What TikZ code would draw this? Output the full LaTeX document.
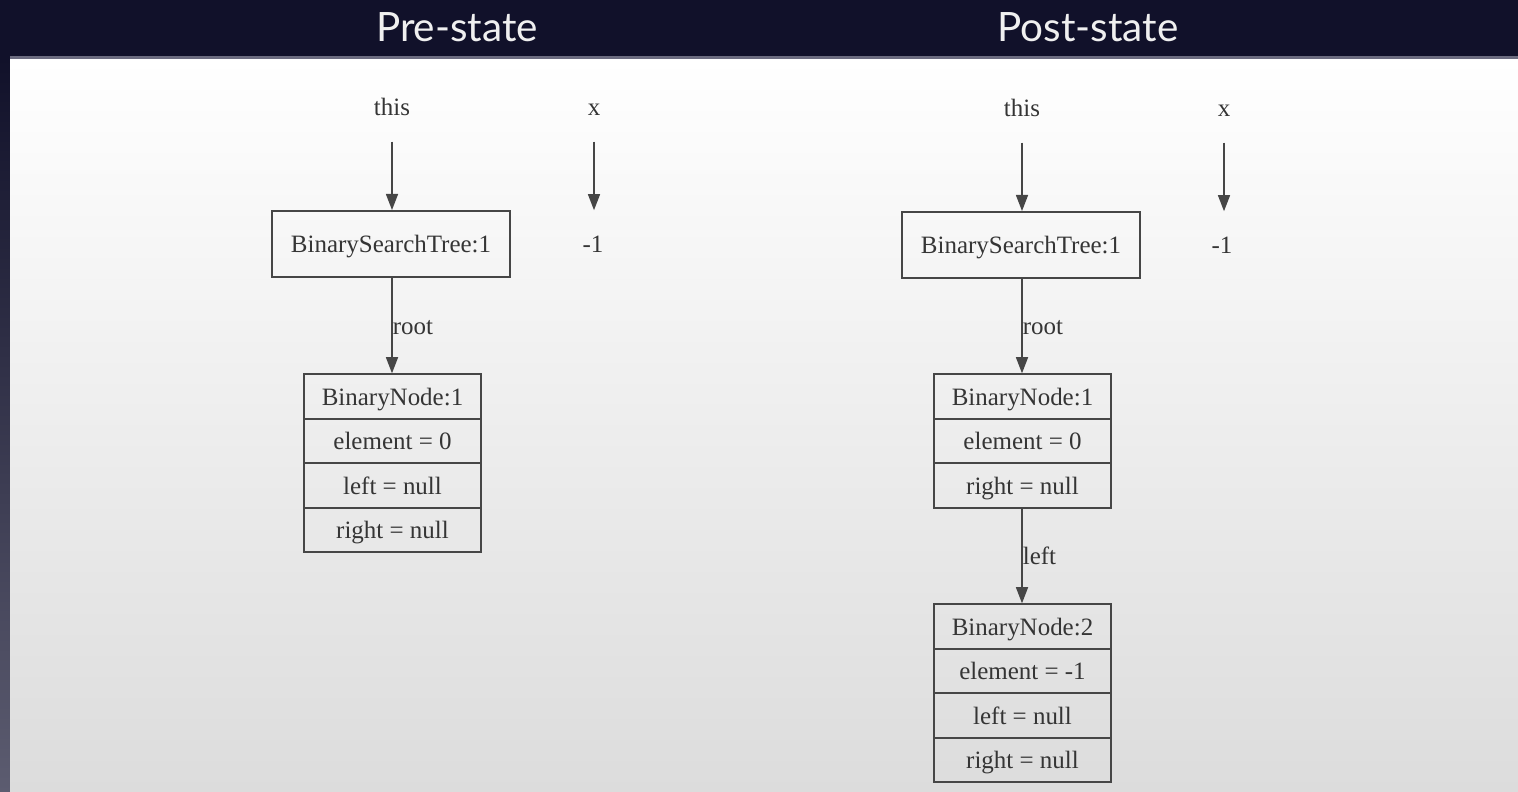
\documentclass[tikz,border=0pt]{standalone}
\usepackage{fontspec}
\setmainfont{Liberation Serif}
\newfontfamily\headfont{Lato}
\usetikzlibrary{arrows.meta}
\definecolor{barnavy}{HTML}{11112A}
\definecolor{stripbot}{HTML}{5C5C70}
\definecolor{panelbot}{HTML}{DCDCDC}
\definecolor{ruleline}{HTML}{6C6C80}
\definecolor{edgegray}{HTML}{464646}
\definecolor{txtgray}{HTML}{353535}
\begin{document}
\begin{tikzpicture}[x=0.01cm,y=-0.01cm,
  txt/.style={text=txtgray, font=\fontsize{7.1}{8.5}\selectfont,
              text height=6.2pt, text depth=1.3pt},
  varname/.style={txt, inner sep=0, minimum height=0.68cm},
  objbox/.style={txt, draw=edgegray, line width=0.5pt, inner sep=0,
                 minimum width=2.38cm, minimum height=0.66cm},
  plainval/.style={txt, inner sep=0, minimum height=0.66cm},
  field/.style={txt, draw=edgegray, line width=0.5pt, inner sep=0,
                minimum width=1.77cm, minimum height=0.445cm},
  ptr/.style={draw=edgegray, line width=0.5pt,
              -{Triangle[length=4.6pt,width=3.4pt]}},
  elabel/.style={txt, anchor=west, inner sep=0},
  heading/.style={text=white!94!black, font=\headfont\fontsize{11.5}{13}\selectfont}
]
\useasboundingbox (0,0) rectangle (1518,792);

% slide background
\fill[barnavy] (0,0) rectangle (1518,58);
\shade[top color=barnavy, bottom color=stripbot] (0,58) rectangle (10,792);
\shade[top color=white, bottom color=panelbot] (10,58) rectangle (1518,792);
\draw[ruleline, line width=0.6pt] (10,57.5) -- (1518,57.5);

% headings
\node[heading] (hpre) at (457,27) {Pre-state};
\node[heading] (hpost) at (1088,27) {Post-state};

% ---------- pre-state ----------
\node[varname] (thisA) at (392,107) {this};
\node[varname] (xA) at (594,107) {x};
\node[objbox] (bstA) at (391,244) {BinarySearchTree:1};
\node[plainval] (valA) at (593,244) {-1};
\node[field] (nA1) at (392.5,396.5) {BinaryNode:1};
\node[field] (nA2) at (392.5,441) {element = 0};
\node[field] (nA3) at (392.5,485.5) {left = null};
\node[field] (nA4) at (392.5,530) {right = null};

\draw[ptr] (thisA) -- (thisA |- bstA.north);
\draw[ptr] (xA) -- (xA |- valA.north);
\draw[ptr] (bstA.south -| thisA) -- node[elabel] (rootA) {root} (nA1.north -| thisA);

% ---------- post-state ----------
\node[varname] (thisB) at (1022,108) {this};
\node[varname] (xB) at (1224,108) {x};
\node[objbox] (bstB) at (1021,245) {BinarySearchTree:1};
\node[plainval] (valB) at (1222,245) {-1};
\node[field] (nB1) at (1022.5,396.5) {BinaryNode:1};
\node[field] (nB2) at (1022.5,441) {element = 0};
\node[field] (nB3) at (1022.5,485.5) {right = null};
\node[field] (nC1) at (1022.5,626.5) {BinaryNode:2};
\node[field] (nC2) at (1022.5,671) {element = -1};
\node[field] (nC3) at (1022.5,715.5) {left = null};
\node[field] (nC4) at (1022.5,760) {right = null};

\draw[ptr] (thisB) -- (thisB |- bstB.north);
\draw[ptr] (xB) -- (xB |- valB.north);
\draw[ptr] (bstB.south -| thisB) -- node[elabel] (rootB) {root} (nB1.north -| thisB);
\draw[ptr] (nB3.south -| thisB) -- node[elabel] (leftB) {left} (nC1.north -| thisB);
\end{tikzpicture}
\end{document}
